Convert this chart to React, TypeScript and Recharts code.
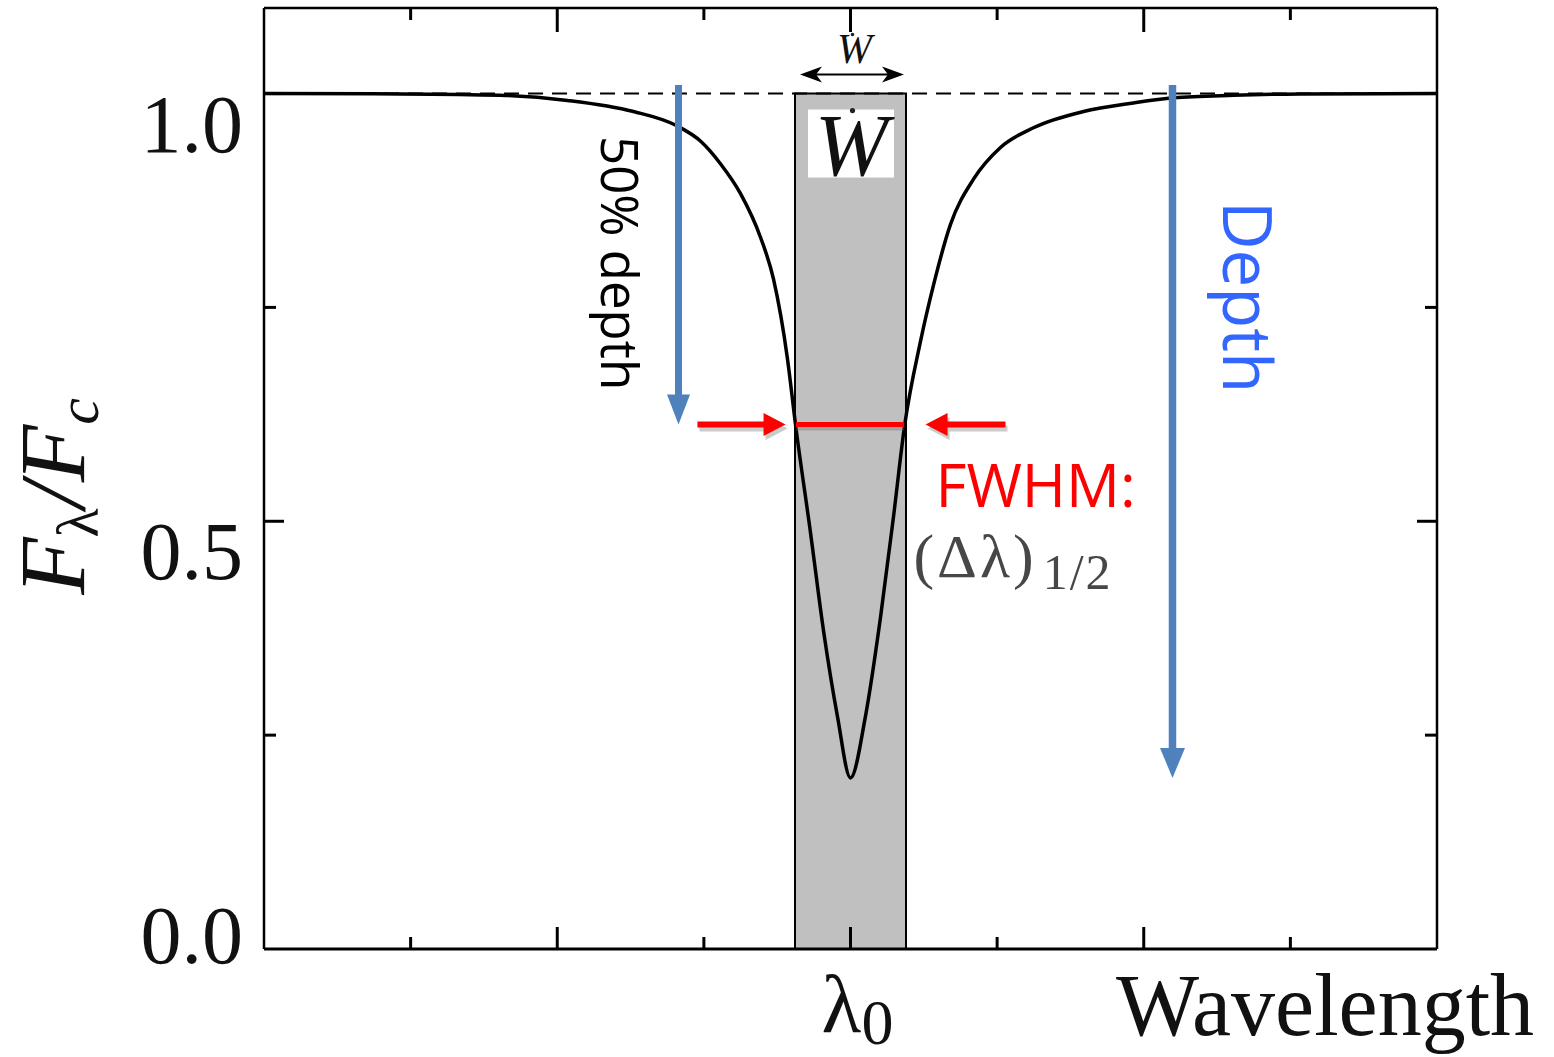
import React from 'react';
import { LineChart, Line, XAxis, YAxis, ReferenceLine, ReferenceArea, ReferenceDot } from 'recharts';

// Normalised absorption-line profile; wavelength measured from the line centre λ0
const wavelengthOffset = [
  -4.0, -3.07, -2.39, -1.93, -1.48, -1.18, -1.02, -0.887, -0.75, -0.614, -0.525, -0.43, -0.375, -0.273, -0.184, -0.089,
  0, 0.102, 0.205, 0.293, 0.37, 0.477, 0.566, 0.682, 0.839, 1.023, 1.248, 1.589, 1.93, 2.203, 2.613, 3.07, 4.0,
];
const normalizedFlux = [
  1.0, 0.9995, 0.998, 0.992, 0.979, 0.962, 0.944, 0.918, 0.883, 0.832, 0.783, 0.69, 0.613, 0.487, 0.372, 0.272,
  0.2, 0.272, 0.388, 0.505, 0.613, 0.71, 0.776, 0.847, 0.9, 0.937, 0.96, 0.979, 0.989, 0.995, 0.998, 0.9995, 1.0,
];

const xTicks = [-3, -2, -1, 0, 1, 2, 3];
const xTickLabels = ['', '', '', 'λ_0', '', '', ''];
const yTicks = [0, 0.25, 0.5, 0.75, 1.0];
const yTickLabels = ['0.0', '', '0.5', '', '1.0'];
const xDomain = [-4, 4];
const yDomain = [0, 1.1];

// Line parameters
const continuumLevel = 1.0;
const lineMinimum = 0.2;
const equivalentWidth = 0.757;
const halfDepthLevel = 0.613;
const fwhmBounds = [-0.372, 0.366];
const arrowTopLevel = 1.01;
const halfDepthArrowX = -1.173;
const depthArrowX = 2.196;
const fwhmArrowLeft = [-1.044, -0.443];
const fwhmArrowRight = [1.057, 0.512];

const profile = wavelengthOffset.map((x, i) => ({ x, flux: normalizedFlux[i] }));

const SERIF = '"Liberation Serif", "Times New Roman", serif';
const SANS = '"Open Sans", "Liberation Sans", sans-serif';
const BLUE = '#4F81BD';
const RED = '#FF0000';

function BottomTickLabel(props: any) {
  const { x, y, payload } = props;
  const i = xTicks.indexOf(payload.value);
  const label = xTickLabels[i] || '';
  if (!label) return <g />;
  const [main, sub] = label.split('_');
  return (
    <text x={x + 7} y={y + 83} textAnchor="middle" fontFamily={SERIF} fontSize={82} fill="#111">
      {main}
      <tspan fontSize={64} dy={12}>{sub}</tspan>
    </text>
  );
}

function LeftTickLabel(props: any) {
  const { x, y, payload } = props;
  const i = yTicks.indexOf(payload.value);
  const label = yTickLabels[i] || '';
  if (!label) return <g />;
  const dy = payload.value === 0 ? 14 : 58;
  return (
    <text x={x - 21} y={y + dy} textAnchor="end" fontFamily={SERIF} fontSize={82} fill="#111">
      {label}
    </text>
  );
}

// Short inward tick mark anchored at a point on the frame
const tickMark = (dx: number, dy: number) => (p: any) => (
  <line x1={p.cx} y1={p.cy} x2={p.cx + dx} y2={p.cy + dy} stroke="#000" strokeWidth={3} />
);

function arrowParts(x1: number, y1: number, x2: number, y2: number, shaft: number, headLen: number, headW: number, color: string) {
  const dx = x2 - x1;
  const dy = y2 - y1;
  const len = Math.hypot(dx, dy) || 1;
  const ux = dx / len;
  const uy = dy / len;
  const nx = -uy;
  const ny = ux;
  const bx = x2 - ux * headLen;
  const by = y2 - uy * headLen;
  const pts = `${x2},${y2} ${bx + (nx * headW) / 2},${by + (ny * headW) / 2} ${bx - (nx * headW) / 2},${by - (ny * headW) / 2}`;
  return (
    <g>
      <line x1={x1} y1={y1} x2={bx + ux} y2={by + uy} stroke={color} strokeWidth={shaft} />
      <polygon points={pts} fill={color} />
    </g>
  );
}

const halfDepthArrow = (p: any) => (
  <g>
    {arrowParts(p.x1, p.y1, p.x2, p.y2, 7, 30, 23, BLUE)}
    <text transform={`translate(${p.x1 - 78},${p.y1 + 51}) rotate(90)`} fontFamily={SANS} fontSize={51} fill="#000">
      50% depth
    </text>
  </g>
);

const depthArrow = (p: any) => (
  <g>
    {arrowParts(p.x1, p.y1, p.x2, p.y2, 7.5, 30, 25, BLUE)}
    <text transform={`translate(${p.x1 + 51},${p.y1 + 116}) rotate(90)`} fontFamily={SANS} fontSize={67} fill="#3366FF">
      Depth
    </text>
  </g>
);

const redArrow = (p: any) => (
  <g>
    <g opacity={0.3} transform="translate(2,4)">{arrowParts(p.x1, p.y1, p.x2, p.y2, 6, 22, 23, '#555')}</g>
    {arrowParts(p.x1, p.y1, p.x2, p.y2, 6, 22, 23, RED)}
  </g>
);

const redArrowWithText = (p: any) => (
  <g>
    {redArrow(p)}
    <text x={p.x1 - 70} y={p.y1 + 82} fontFamily={SANS} fontSize={60} fill={RED}>
      FWHM:
    </text>
    <text x={p.x1 - 92} y={p.y1 + 152} fontFamily={SERIF} fontSize={62} fill="#474747" letterSpacing={3}>
      (Δλ)
      <tspan fontSize={50} dx={6} dy={12} letterSpacing={2}>1/2</tspan>
    </text>
  </g>
);

const fwhmSegment = (p: any) => (
  <g>
    <line x1={p.x1} y1={p.y1 + 4} x2={p.x2} y2={p.y2 + 4} stroke="#666" strokeOpacity={0.35} strokeWidth={4} />
    <line x1={p.x1} y1={p.y1} x2={p.x2} y2={p.y2} stroke={RED} strokeWidth={5} />
  </g>
);

const boxLabel = (props: any) => {
  const { x, y, width } = props.viewBox;
  const cx = x + width / 2;
  const ay = y - 19;
  const lx = x + 5;
  const rx = x + width - 2;
  return (
    <g>
      <rect x={x + 13} y={y + 16} width={width - 25} height={68} fill="#fff" />
      <text x={cx + 1} y={y + 81} textAnchor="middle" fontFamily={SERIF} fontStyle="italic" fontSize={88} fill="#111">
        W
      </text>
      <circle cx={cx + 2} cy={y + 17} r={2.6} fill="#222" />
      <line x1={lx + 16} y1={ay} x2={rx - 16} y2={ay} stroke="#000" strokeWidth={2} />
      <polygon points={`${lx},${ay} ${lx + 22},${ay - 8} ${lx + 16},${ay} ${lx + 22},${ay + 8}`} fill="#000" />
      <polygon points={`${rx},${ay} ${rx - 22},${ay - 8} ${rx - 16},${ay} ${rx - 22},${ay + 8}`} fill="#000" />
      <text x={cx + 4} y={y - 31} textAnchor="middle" fontFamily={SERIF} fontStyle="italic" fontSize={42} fill="#111">
        W
      </text>
      <circle cx={cx + 2} cy={y - 59} r={1.8} fill="#222" />
    </g>
  );
};

const fluxLabel = (props: any) => {
  const { x, y, height } = props.viewBox;
  const bx = x + 84;
  const cy = y + height / 2 + 18;
  return (
    <text transform={`translate(${bx},${cy}) rotate(-90)`} textAnchor="middle" fontFamily={SERIF} fill="#111">
      <tspan fontSize={94} fontStyle="italic">F</tspan>
      <tspan fontSize={60} dy={14}>λ</tspan>
      <tspan fontSize={94} dy={-14} fontStyle="italic">/F</tspan>
      <tspan fontSize={60} dy={14} fontStyle="italic">c</tspan>
    </text>
  );
};

const wavelengthLabel = (props: any) => {
  const { x, y, width } = props.viewBox;
  return (
    <text x={x + width - 321} y={y + 86} fontFamily={SERIF} fontSize={88} fill="#111">
      Wavelength
    </text>
  );
};

export default function App() {
  return (
    <div style={{ position: 'absolute', left: 0, top: 0, width: 1554, height: 1057, background: '#fff' }}>
      <LineChart width={1554} height={1057} data={profile} margin={{ top: 8, right: 117, bottom: 0, left: 0 }}>
        <XAxis
          dataKey="x"
          type="number"
          domain={xDomain}
          ticks={xTicks}
          interval={0}
          height={108}
          tickSize={0}
          tickMargin={0}
          tickLine={false}
          axisLine={{ stroke: '#000', strokeWidth: 3 }}
          tick={<BottomTickLabel />}
          label={wavelengthLabel}
        />
        <YAxis
          type="number"
          domain={yDomain}
          ticks={yTicks}
          interval={0}
          width={264}
          tickSize={0}
          tickMargin={0}
          tickLine={false}
          axisLine={{ stroke: '#000', strokeWidth: 2.5 }}
          tick={<LeftTickLabel />}
          label={fluxLabel}
        />
        <ReferenceArea
          x1={-equivalentWidth / 2}
          x2={equivalentWidth / 2}
          y1={0}
          y2={continuumLevel}
          fill="#C0C0C0"
          fillOpacity={1}
          stroke="#000"
          strokeWidth={2}
          label={boxLabel}
        />
        <ReferenceLine y={continuumLevel} stroke="#000" strokeWidth={2} strokeDasharray="15 9" />
        <Line
          type="monotone"
          dataKey="flux"
          stroke="#000"
          strokeWidth={3.5}
          dot={false}
          activeDot={false}
          isAnimationActive={false}
        />
        <ReferenceLine
          segment={[{ x: fwhmBounds[0], y: halfDepthLevel }, { x: fwhmBounds[1], y: halfDepthLevel }]}
          shape={fwhmSegment}
        />
        <ReferenceLine
          segment={[{ x: fwhmArrowLeft[0], y: halfDepthLevel }, { x: fwhmArrowLeft[1], y: halfDepthLevel }]}
          shape={redArrow}
        />
        <ReferenceLine
          segment={[{ x: fwhmArrowRight[0], y: halfDepthLevel }, { x: fwhmArrowRight[1], y: halfDepthLevel }]}
          shape={redArrowWithText}
        />
        <ReferenceLine
          segment={[{ x: halfDepthArrowX, y: arrowTopLevel }, { x: halfDepthArrowX, y: halfDepthLevel }]}
          shape={halfDepthArrow}
        />
        <ReferenceLine
          segment={[{ x: depthArrowX, y: arrowTopLevel }, { x: depthArrowX, y: lineMinimum }]}
          shape={depthArrow}
        />
        {/* top and right sides of the frame */}
        <ReferenceLine y={yDomain[1]} ifOverflow="visible" stroke="#000" strokeWidth={2.5} />
        <ReferenceLine x={xDomain[1]} ifOverflow="visible" stroke="#000" strokeWidth={2.5} />
        {xTicks.map((v) => (
          <ReferenceDot
            key={`xb${v}`}
            x={v}
            y={yDomain[0]}
            ifOverflow="visible"
            shape={tickMark(0, v % 2 === 0 ? -22 : -12)}
          />
        ))}
        {xTicks.map((v) => (
          <ReferenceDot
            key={`xt${v}`}
            x={v}
            y={yDomain[1]}
            ifOverflow="visible"
            shape={tickMark(0, v % 2 === 0 ? 24 : 12)}
          />
        ))}
        {yTicks
          .filter((v) => v > 0)
          .map((v) => (
            <ReferenceDot
              key={`yl${v}`}
              x={xDomain[0]}
              y={v}
              ifOverflow="visible"
              shape={tickMark(yTickLabels[yTicks.indexOf(v)] ? 20 : 12, 0)}
            />
          ))}
        {yTicks
          .filter((v) => v > 0)
          .map((v) => (
            <ReferenceDot
              key={`yr${v}`}
              x={xDomain[1]}
              y={v}
              ifOverflow="visible"
              shape={tickMark(yTickLabels[yTicks.indexOf(v)] ? -20 : -12, 0)}
            />
          ))}
      </LineChart>
    </div>
  );
}
